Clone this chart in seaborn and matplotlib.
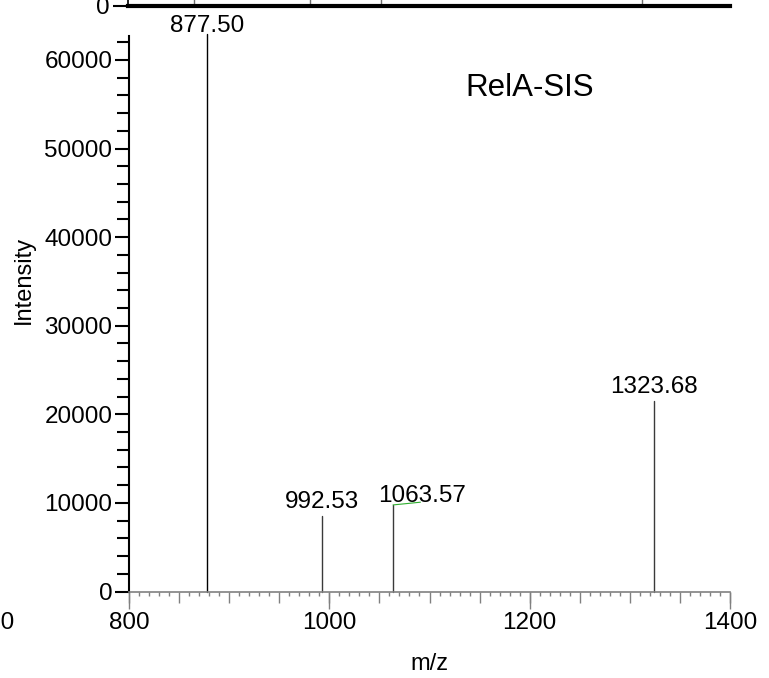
import matplotlib
matplotlib.use("Agg")
import matplotlib.pyplot as plt
import pandas as pd
import seaborn as sns
from matplotlib.ticker import MultipleLocator

# RelA-SIS spectrum: labelled fragment ions
mz = [877.50, 992.53, 1063.57, 1323.68]
intensity = [62900, 8520, 9770, 21500]
peak_labels = ["877.50", "992.53", "1063.57", "1323.68"]

# spectrum of the panel above (only its baseline region is in view)
upper_mz = [865.9, 981.7, 1052.6, 1312.1]
upper_intensity = [50000, 12000, 14000, 30000]

x_major = [800, 1000, 1200, 1400]
y_major = [0, 10000, 20000, 30000, 40000, 50000, 60000]

sns.set_theme(style="ticks", rc={
    "text.color": "black", "axes.labelcolor": "black",
    "xtick.color": "black", "ytick.color": "black",
})
plt.rcParams["font.family"] = ["Liberation Sans", "DejaVu Sans"]

W, H = 769, 678
fig = plt.figure(figsize=(W / 100, H / 100), dpi=100)


def px_box(left, top, right, bottom):
    return [left / W, 1 - bottom / H, (right - left) / W, (bottom - top) / H]


def stick_frame(xs, ys):
    rows = []
    for i, (x, y) in enumerate(zip(xs, ys)):
        rows.append({"mz": x, "intensity": 0.0, "peak": i})
        rows.append({"mz": x, "intensity": y, "peak": i})
    return pd.DataFrame(rows)


GRAY = "#808080"
FS = 17.5

# ---------------- main panel ----------------
ax = fig.add_axes(px_box(129, 36, 730, 591.5))
ax.set_facecolor("white")
YTOP = 62700

peaks = stick_frame(mz, intensity)
stick_colors = ["black", "#3a3a3a", "#3a3a3a", "#3a3a3a"]
sns.lineplot(data=peaks, x="mz", y="intensity", hue="peak", units="peak",
             estimator=None, sort=False, palette=stick_colors, lw=1,
             legend=False, ax=ax, clip_on=False)

ax.set_xlim(800, 1400)
ax.set_ylim(0, YTOP)
ax.set_xlabel("")

# x axis: minor every 10, medium every 50, labelled every 200
ax.xaxis.set_major_locator(MultipleLocator(50))
ax.xaxis.set_minor_locator(MultipleLocator(10))
ax.tick_params(axis="x", which="major", bottom=True, length=8, width=1,
               color=GRAY, labelbottom=False)
ax.tick_params(axis="x", which="minor", bottom=True, length=3, width=1,
               color=GRAY)

sec = ax.secondary_xaxis("bottom")
sec.set_xticks(x_major)
sec.set_xticklabels([str(v) for v in x_major])
sec.tick_params(axis="x", bottom=True, length=12.5, width=1, color=GRAY,
                labelsize=FS, pad=2)
sec.spines["bottom"].set_visible(False)
sec.set_xlabel("m/z", fontsize=17, labelpad=14)

# y axis
ax.set_yticks(y_major)
ax.set_yticklabels([str(v) for v in y_major])
ax.yaxis.set_minor_locator(MultipleLocator(2000))
ax.tick_params(axis="y", which="major", left=True, length=10, width=1.5,
               color="black", labelsize=FS, pad=2)
ax.tick_params(axis="y", which="minor", left=True, length=9, width=1.5,
               color="black")
ax.set_ylabel("Intensity", fontsize=17)
ax.yaxis.set_label_coords(-0.157, 0.561)

for side in ("top", "right"):
    ax.spines[side].set_visible(False)
ax.spines["left"].set_color("black")
ax.spines["left"].set_linewidth(1.5)
ax.spines["bottom"].set_color(GRAY)
ax.spines["bottom"].set_linewidth(1.2)

# peak annotations
label_offsets = {
    "877.50": (0, -1),
    "992.53": (0, 2),
    "1323.68": (0, 2),
}
for x, y, lab in zip(mz, intensity, peak_labels):
    if lab == "1063.57":
        ax.annotate(lab, xy=(x, y), xytext=(21, -1.2),
                    textcoords="offset points", ha="center", va="bottom",
                    fontsize=FS, annotation_clip=False,
                    arrowprops=dict(arrowstyle="-", color="#2fae2f", lw=0.8,
                                    shrinkA=0, shrinkB=0, relpos=(0.48, 0.2)))
    else:
        ax.annotate(lab, xy=(x, min(y, YTOP)), xytext=label_offsets[lab],
                    textcoords="offset points", ha="center", va="bottom",
                    fontsize=FS, annotation_clip=False)

ax.text(0.667, 0.906, "RelA-SIS", transform=ax.transAxes, fontsize=22.5,
        ha="center", va="center")

# ---------------- panel above (baseline only) ----------------
tax = fig.add_axes(px_box(128, -300, 730, 5.5))
tax.patch.set_alpha(0)
upper = stick_frame(upper_mz, upper_intensity)
sns.lineplot(data=upper, x="mz", y="intensity", units="peak", estimator=None,
             sort=False, color="#707070", lw=1, legend=False, ax=tax)
tax.set_xlim(800, 1400)
tax.set_ylim(0, 60000)
tax.set_xticks([])
tax.set_xlabel("")
tax.set_ylabel("")
tax.set_yticks([0])
tax.set_yticklabels(["0"])
tax.tick_params(axis="y", left=True, length=11, width=1.5, color="black",
                labelsize=FS, pad=2)
for side in ("top", "right"):
    tax.spines[side].set_visible(False)
tax.spines["bottom"].set_color("black")
tax.spines["bottom"].set_linewidth(3)
tax.spines["left"].set_linewidth(1.2)
tax.spines["left"].set_color("black")

# ---------------- panel to the left (tick labels only) ----------------
lax = fig.add_axes(px_box(-620, 36, -13, 591.5))
lax.patch.set_alpha(0)
lax.set_xlim(800, 1400)
lax.set_ylim(0, YTOP)
lax.set_xticks(x_major)
lax.set_xticklabels([str(v) for v in x_major])
lax.set_yticks([])
lax.tick_params(axis="x", bottom=True, length=12.5, width=1, color=GRAY,
                labelsize=FS, pad=2)
for side in lax.spines:
    lax.spines[side].set_visible(False)

fig.savefig("out.png", dpi=100, facecolor="white")
